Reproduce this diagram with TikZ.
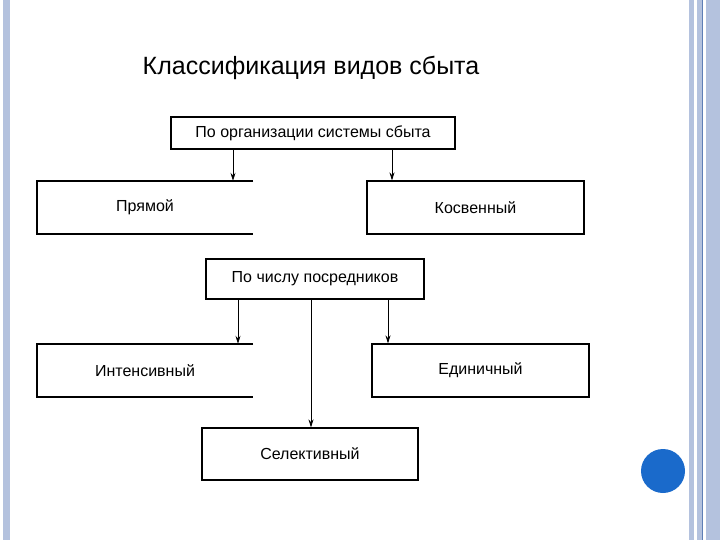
\documentclass[tikz,border=0pt]{standalone}
\usepackage{fontspec}
\setmainfont{Liberation Sans}
\usetikzlibrary{arrows.meta}
\definecolor{bord}{HTML}{B4C2DE}
\definecolor{bordd}{HTML}{5F7FB5}
\definecolor{dot}{HTML}{1A6ACB}
\begin{document}
\begin{tikzpicture}[x=1pt,y=-1pt,
  box/.style={draw,line width=1.1pt,minimum height=#1,inner sep=0pt,font=\fontsize{16}{18}\selectfont},
  plain/.style={minimum height=#1,inner sep=0pt,font=\fontsize{16}{18}\selectfont},
  arr/.style={-{Stealth[length=8pt,width=5pt]},line width=0.8pt}]
\useasboundingbox (0,0) rectangle (720,540);
\fill[white] (0,0) rectangle (720,540);
\fill[bord] (3,0) rectangle (10,540);
\fill[bord] (689,0) rectangle (694,540);
\fill[bord] (697,0) rectangle (703,540);
\draw[bordd,line width=0.7pt] (702,0) -- (702,540);
\fill[bord] (706,0) rectangle (720,540);
\fill[dot] (663,471) circle (22);
\node[font=\fontsize{25}{28}\selectfont] (t) at (311,68) {Классификация видов сбыта};
\node[box=32pt,minimum width=284pt] (a) at (313,133) {По организации системы сбыта};
\node[plain=53pt,minimum width=216pt] (p) at (145,207.5) {Прямой};
\draw[line width=1.1pt] (253,181) -- (37,181) -- (37,234) -- (253,234);
\node[box=53pt,minimum width=217pt] (k) at (475.5,207.5) {Косвенный};
\node[box=40pt,minimum width=218pt] (b) at (315,279) {По числу посредников};
\node[plain=53pt,minimum width=216pt] (i) at (145,370.5) {Интенсивный};
\draw[line width=1.1pt] (253,344) -- (37,344) -- (37,397) -- (253,397);
\node[box=53pt,minimum width=217pt] (e) at (480.5,370.5) {Единичный};
\node[box=52pt,minimum width=216pt] (s) at (310,454) {Селективный};
\draw[arr] (a.south -| 233,0) -- (p.north -| 233,0);
\draw[arr] (a.south -| 392,0) -- (k.north -| 392,0);
\draw[arr] (b.south -| 238,0) -- (i.north -| 238,0);
\draw[arr] (b.south -| 388,0) -- (e.north -| 388,0);
\draw[arr] (b.south -| 311,0) -- (s.north -| 311,0);
\end{tikzpicture}
\end{document}
